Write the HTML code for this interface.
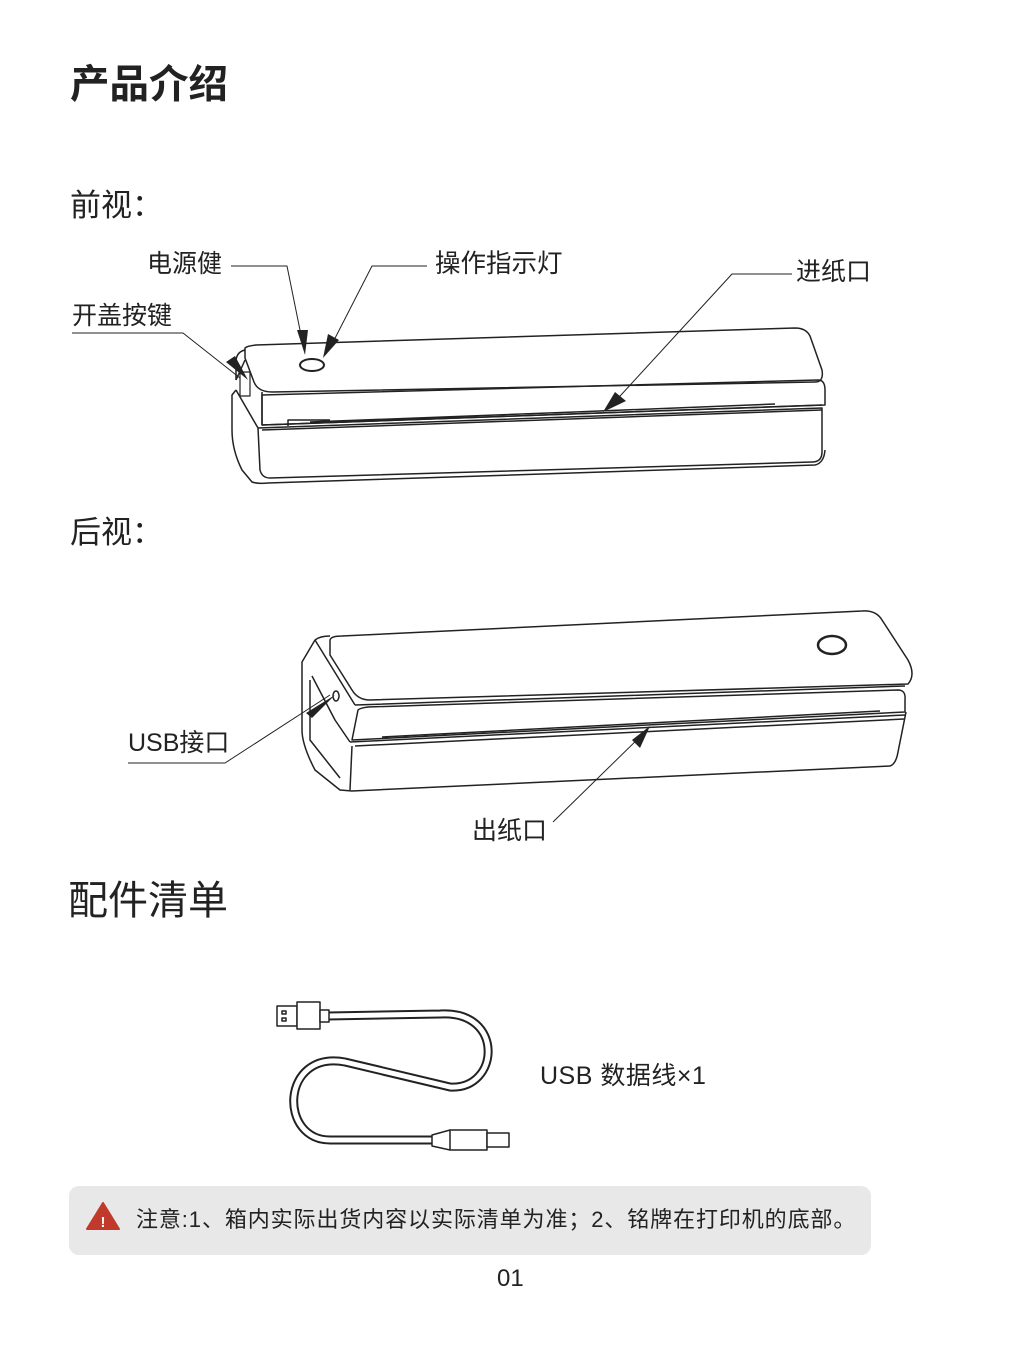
<!DOCTYPE html>
<html><head><meta charset="utf-8"><style>
body{margin:0;background:#fff;}
.p{position:relative;width:1020px;height:1360px;overflow:hidden;font-family:"Liberation Sans","Noto Sans CJK SC",sans-serif;color:#222;}
.t{position:absolute;white-space:nowrap;line-height:1;}
</style></head><body><div class="p">
<div class="t" style="left:70px;top:66px;font-size:39.5px;font-weight:bold;">产品介绍</div>
<div class="t" style="left:70px;top:190px;font-size:31px;">前视：</div>
<div class="t" style="left:70px;top:517px;font-size:31px;">后视：</div>
<div class="t" style="left:68px;top:881px;font-size:40px;">配件清单</div>
<div class="t" style="left:147px;top:252px;font-size:25px;">电源健</div>
<div class="t" style="left:435px;top:252px;font-size:25.5px;">操作指示灯</div>
<div class="t" style="left:796px;top:260px;font-size:25px;">进纸口</div>
<div class="t" style="left:72px;top:304px;font-size:25px;">开盖按键</div>
<div class="t" style="left:128px;top:731px;font-size:25px;">USB接口</div>
<div class="t" style="left:472px;top:819px;font-size:25px;">出纸口</div>
<div class="t" style="left:540px;top:1064px;font-size:25px;letter-spacing:0.5px;">USB 数据线×1</div>
<div style="position:absolute;left:69px;top:1186px;width:802px;height:69px;background:#e8e8e8;border-radius:10px;"></div>
<div class="t" style="left:136px;top:1209px;font-size:22px;letter-spacing:0.9px;">注意:1、箱内实际出货内容以实际清单为准；2、铭牌在打印机的底部。</div>
<div class="t" style="left:497px;top:1267px;font-size:24px;">01</div>
<svg width="1020" height="1360" style="position:absolute;left:0;top:0" fill="none" stroke="#222" stroke-width="1.5" stroke-linejoin="round">
<polygon points="103,1203 119,1229 87,1229" fill="#c0392b" stroke="#c0392b" stroke-width="2"/>
<text x="103" y="1227" fill="#fff" stroke="none" font-size="15" font-weight="bold" text-anchor="middle" font-family="Liberation Sans">!</text>
<path d="M245,348 Q247,346 256,345 L795,328 Q806,328 810,336 L822,370 Q824,382 815,382 L272,392 Q258,392 254,382 L245,358 Z"/>
<path d="M262,395 L818,380 Q825,380 825,390 L825,405 L262,425 Z"/>
<path d="M258,428 L822,408 L822,452 Q822,462 812,462 L270,478 Q262,478 260,470 Z"/>
<path d="M245,350 Q236,352 236,362 L236,380 M236,390 L232,395 L232,430 Q232,450 242,470 L252,482 Q258,484 268,483 L815,465 Q824,463 825,450"/>
<path d="M236,380 L245,360 M236,390 L258,428 M262,392 L262,425"/>
<path d="M262,425 L822,405 M262,430 L822,410 M310,422 L575,412 L775,404 M288,426 L288,420 L310,420 L330,420"/>
<rect x="240" y="372" width="10" height="24" stroke-width="1.2"/>
<ellipse cx="312" cy="365" rx="12" ry="6" stroke-width="2"/>
<path d="M231,266 L287,266 L302,340 M427,266 L372,266 L330,348 M792,274 L732,274 L610,407 M72,333 L183,333 L240,378" stroke-width="1"/>
<polygon points="297,330 308,330 305,355" fill="#222" stroke="none"/>
<polygon points="328,334 339,340 323,358" fill="#222" stroke="none"/>
<polygon points="615,392 626,401 603,412" fill="#222" stroke="none"/>
<polygon points="226,362 235,356 248,380" fill="#222" stroke="none"/>
<path d="M330,640 Q331,636 342,636 L862,611 Q876,610 882,620 L908,660 Q916,675 908,684 L370,700 Q358,700 352,690 L330,655 Z"/>
<path d="M315,640 Q320,636 330,636 M315,640 L302,662 L302,730 Q302,745 315,770 L340,790 L352,791 L890,766 Q896,764 898,752 L906,712"/>
<path d="M355,705 L905,686 M358,710 Q360,708 368,707 L898,690 Q906,690 905,700 L905,712 L352,740 Z"/>
<path d="M350,742 L905,715 M355,746 L904,719 M382,737 L880,711"/>
<path d="M315,640 L355,705 M312,676 L335,720 L350,742 M352,746 L350,790 M310,680 L310,740 L340,778"/>
<ellipse cx="832" cy="645" rx="14" ry="9" stroke-width="2.5"/>
<ellipse cx="336" cy="696" rx="3" ry="5"/>
<path d="M128,763 L225,763 L330,695 M553,822 L645,732" stroke-width="1"/>
<polygon points="306,713 335,695 312,718" fill="#222" stroke="none"/>
<polygon points="632,740 650,726 640,748" fill="#222" stroke="none"/>
<path d="M328,1016 L440,1014 C505,1010 500,1090 450,1087 L345,1062 C280,1050 278,1142 332,1140 L436,1140" stroke-width="9"/>
<path d="M328,1016 L440,1014 C505,1010 500,1090 450,1087 L345,1062 C280,1050 278,1142 332,1140 L436,1140" stroke="#fff" stroke-width="5"/>
<rect x="277" y="1006" width="20" height="20" fill="#fff"/>
<rect x="282" y="1011" width="4" height="3"/><rect x="282" y="1018" width="4" height="3"/>
<rect x="297" y="1002" width="23" height="27" fill="#fff"/>
<rect x="320" y="1010" width="9" height="12" fill="#fff"/>
<path d="M432,1135 L450,1130 L487,1130 L487,1150 L450,1150 L432,1146 Z M450,1130 L450,1150" fill="#fff"/>
<rect x="487" y="1133" width="22" height="14" fill="#fff"/>
</svg>
</div></body></html>
